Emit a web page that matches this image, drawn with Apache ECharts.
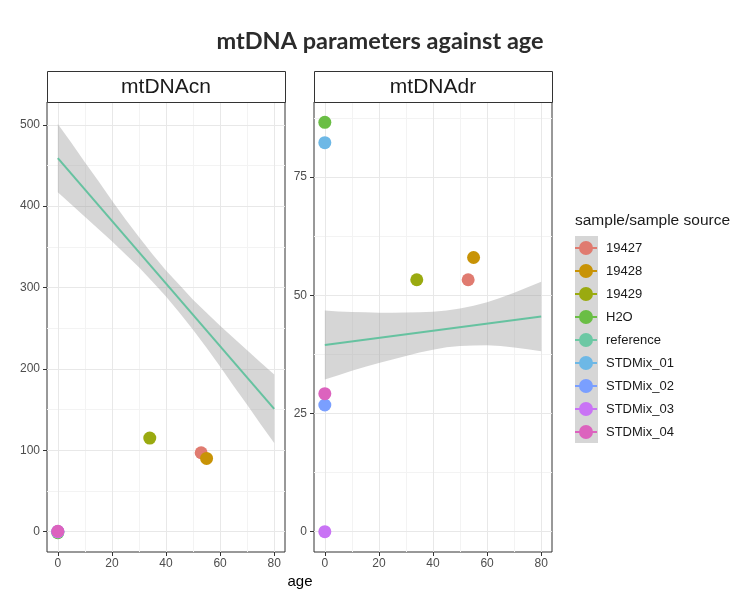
<!DOCTYPE html>
<html>
<head>
<meta charset="utf-8">
<script src="https://cdn.jsdelivr.net/npm/echarts@6/dist/echarts.min.js"></script>
<style>
  html, body { margin: 0; padding: 0; background: #fff; }
  #chart { width: 734px; height: 592px; }
</style>
</head>
<body>
<div id="chart"></div>
<script>
// samples (legend order) and their colours
const samples = ['19427', '19428', '19429', 'H2O', 'reference', 'STDMix_01', 'STDMix_02', 'STDMix_03', 'STDMix_04'];
const sampleColors = ['#E07B70', '#C89306', '#9AAA10', '#6ABE45', '#6CC8A4', '#6DB8E6', '#7A9FFF', '#C973F5', '#DC63BE'];

// point values (reference has no points)
const sampleAge = [53, 55, 34, 0, null, 0, 0, 0, 0];
const cnValues = [97, 90, 115, -1.2, null, 0, 0, 0, 0.5];
const drValues = [53.3, 58, 53.3, 86.6, null, 82.3, 26.8, 0, 29.2];

// fitted lines
const fitAge = [0, 80];
const cnFit = [459, 151];
const drFit = [39.5, 45.5];

// confidence bands (read every 5 years)
const bandAge = [0, 5, 10, 15, 20, 25, 30, 35, 40, 45, 50, 55, 60, 65, 70, 75, 80];
const cnUpper = [501, 478, 454, 431, 407, 384, 362, 341, 321, 303, 285, 269, 253, 238, 223, 208, 193];
const cnLower = [417, 402, 387, 372, 357, 341, 325, 307, 289, 269, 248, 226, 203, 179, 156, 132, 109];
const drUpper = [46.8, 46.6, 46.45, 46.4, 46.3, 46.3, 46.35, 46.4, 46.5, 46.8, 47.2, 47.8, 48.55, 49.5, 50.55, 51.7, 52.85];
const drLower = [32.2, 33.1, 34.05, 34.9, 35.7, 36.4, 37.15, 37.9, 38.5, 39.0, 39.3, 39.4, 39.45, 39.3, 38.95, 38.6, 38.15];

// axis ticks / grid lines
const ageTicks = [0, 20, 40, 60, 80];
const ageMinor = [10, 30, 50, 70];
const cnTicks = [0, 100, 200, 300, 400, 500];
const cnMinor = [50, 150, 250, 350, 450];
const drTicks = [0, 25, 50, 75];
const drMinor = [12.5, 37.5, 62.5, 87.5];

const panels = [
  { name: 'mtDNAcn', values: cnValues, fit: cnFit, upper: cnUpper, lower: cnLower, ticks: cnTicks, minor: cnMinor, min: -25, max: 528, left: 47 },
  { name: 'mtDNAdr', values: drValues, fit: drFit, upper: drUpper, lower: drLower, ticks: drTicks, minor: drMinor, min: -4.3, max: 90.9, left: 314 }
];

const plotTop = 102, plotW = 238, plotH = 450;
const fitColor = '#66C2A0';
const tickFont = { color: '#4D4D4D', fontSize: 12, fontFamily: 'Liberation Sans' };

let chartDom = document.getElementById('chart');
let myChart = echarts.init(chartDom);

let grids = [], xAxes = [], yAxes = [], series = [], graphics = [];

panels.forEach((p, k) => {
  grids.push({ left: p.left, top: plotTop, width: plotW, height: plotH, show: true, borderColor: '#333', borderWidth: 1, backgroundColor: '#fff' });
  xAxes.push({
    gridIndex: k, type: 'value', min: -4, max: 84,
    axisLine: { show: false, onZero: false },
    splitLine: { show: false },
    axisTick: { show: true, length: 4, lineStyle: { color: '#333' }, customValues: ageTicks },
    axisLabel: Object.assign({ margin: 6, customValues: ageTicks }, tickFont)
  });
  yAxes.push({
    gridIndex: k, type: 'value', min: p.min, max: p.max,
    axisLine: { show: false, onZero: false },
    splitLine: { show: false },
    axisTick: { show: true, length: 4, lineStyle: { color: '#333' }, customValues: p.ticks },
    axisLabel: Object.assign({ margin: 7, customValues: p.ticks }, tickFont)
  });

  // grid lines
  const lines = [];
  ageMinor.forEach(v => lines.push({ xAxis: v, lineStyle: { color: '#F3F3F3', width: 1, type: 'solid' } }));
  p.minor.forEach(v => lines.push({ yAxis: v, lineStyle: { color: '#F3F3F3', width: 1, type: 'solid' } }));
  ageTicks.forEach(v => lines.push({ xAxis: v, lineStyle: { color: '#E8E8E8', width: 1, type: 'solid' } }));
  p.ticks.forEach(v => lines.push({ yAxis: v, lineStyle: { color: '#E8E8E8', width: 1, type: 'solid' } }));
  series.push({
    type: 'line', xAxisIndex: k, yAxisIndex: k, data: [], z: 1, silent: true,
    markLine: { z: 1, silent: true, symbol: ['none', 'none'], label: { show: false }, animation: false, data: lines }
  });

  // confidence band
  series.push({
    type: 'custom', xAxisIndex: k, yAxisIndex: k, z: 2, silent: true,
    data: bandAge.map((a, i) => [a, p.lower[i], p.upper[i]]),
    encode: { x: 0, y: [1, 2] },
    renderItem: function (params, api) {
      if (params.dataIndex !== 0) return null;
      const pts = [];
      for (let i = 0; i < bandAge.length; i++) pts.push(api.coord([bandAge[i], p.upper[i]]));
      for (let i = bandAge.length - 1; i >= 0; i--) pts.push(api.coord([bandAge[i], p.lower[i]]));
      return { type: 'polygon', shape: { points: pts }, style: { fill: 'rgba(153,153,153,0.4)' } };
    }
  });

  // fitted line
  series.push({
    type: 'line', xAxisIndex: k, yAxisIndex: k, z: 3, silent: true, symbol: 'none',
    data: fitAge.map((a, i) => [a, p.fit[i]]),
    lineStyle: { color: fitColor, width: 2 }
  });

  // points
  samples.forEach((s, i) => {
    series.push({
      name: s, type: 'scatter', xAxisIndex: k, yAxisIndex: k, z: 10,
      symbolSize: 13,
      itemStyle: { color: sampleColors[i], opacity: 1 },
      data: sampleAge[i] === null ? [] : [[sampleAge[i], p.values[i]]]
    });
  });

  // facet strip
  graphics.push({ type: 'rect', z: 5, shape: { x: p.left + 0.5, y: 71.5, width: plotW, height: 31 }, style: { fill: '#fff', stroke: '#333', lineWidth: 1 } });
  graphics.push({ type: 'text', z: 6, x: p.left + plotW / 2, y: 87, style: { text: p.name, textAlign: 'center', textVerticalAlign: 'middle', font: '21px "Liberation Sans"', fill: '#1A1A1A' } });
});

// title, axis label, legend title and key background
graphics.push({ type: 'text', x: 380, y: 41, style: { text: 'mtDNA parameters against age', textAlign: 'center', textVerticalAlign: 'middle', font: 'bold 23.5px Lato', fill: '#2B2B2B' } });
graphics.push({ type: 'text', x: 300, y: 582, style: { text: 'age', textAlign: 'center', textVerticalAlign: 'middle', font: '15px "Liberation Sans"', fill: '#000' } });
graphics.push({ type: 'text', x: 575, y: 221, style: { text: 'sample/sample source', textAlign: 'left', textVerticalAlign: 'middle', font: '15.5px "Liberation Sans"', fill: '#1A1A1A' } });
graphics.push({ type: 'rect', z: 0, shape: { x: 575, y: 236, width: 23, height: 207 }, style: { fill: '#D6D6D6' } });

let option = {
  animation: false,
  backgroundColor: '#fff',
  grid: grids,
  xAxis: xAxes,
  yAxis: yAxes,
  legend: {
    data: samples,
    orient: 'vertical',
    left: 575, top: 241,
    padding: 0,
    itemWidth: 22, itemHeight: 14, itemGap: 9,
    selectedMode: false,
    icon: 'path://M0,6 L22,6 L22,8 L0,8 Z M4,7 A7,7 0 1 1 18,7 A7,7 0 1 1 4,7 Z',
    textStyle: { fontSize: 13, fontFamily: 'Liberation Sans', color: '#1A1A1A', lineHeight: 14, padding: [0, 0, 0, 4] }
  },
  graphic: graphics,
  series: series
};

myChart.setOption(option);
</script>
</body>
</html>
